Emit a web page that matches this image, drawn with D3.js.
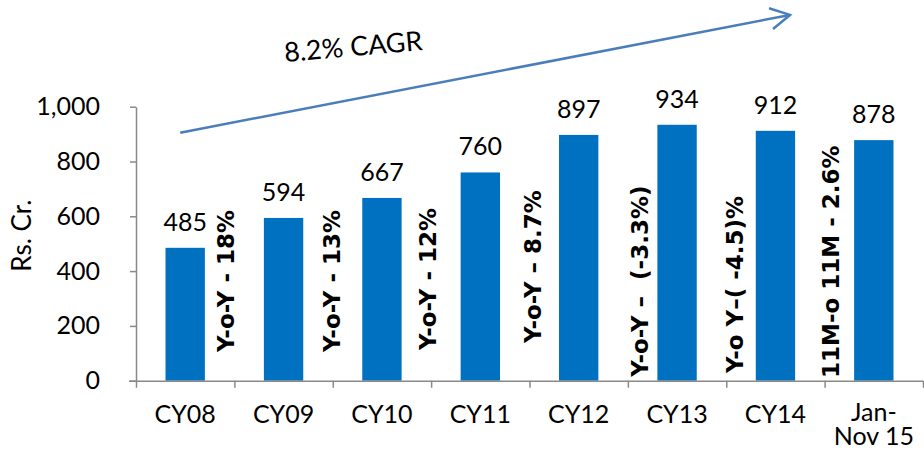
<!DOCTYPE html>
<html>
<head>
<meta charset="utf-8">
<script src="https://cdn.jsdelivr.net/npm/d3@7"></script>
<style>
  body { margin: 0; background: #fff; }
  svg { display: block; }
  text { font-family: Lato, "Open Sans", sans-serif; fill: #000; }
  .yoy { font-family: "DejaVu Sans", sans-serif; font-weight: bold; white-space: pre; }
</style>
</head>
<body>
<svg id="chart"></svg>
<script>
// data
var categories = ["CY08", "CY09", "CY10", "CY11", "CY12", "CY13", "CY14", "Jan-\nNov 15"]
var sales = [485, 594, 667, 760, 897, 934, 912, 878]
var yTicks = [0, 200, 400, 600, 800, 1000]
var yoyLabels = ["Y-o-Y - 18%", "Y-o-Y - 13%", "Y-o-Y - 12%", "Y-o-Y \u2013 8.7%",
                 "Y-o-Y \u2013  (-3.3%)", "Y-o Y\u2013( -4.5)%", "11M-o 11M - 2.6%"]
var cagrLabel = "8.2% CAGR"
var yTitle = "Rs. Cr."

// layout tweaks for the rotated annotations (value where text starts, px nudge from boundary)
var yoyBase = [105, 105, 112, 138, 14, 28, 10]
var yoyNudge = [-8, -1, -3, 3, 12, 9, 6]

var width = 924
var height = 456
var svg = d3.select("#chart").attr("width", width).attr("height", height)

var x = d3.scaleBand().domain(categories).range([136, 923]).padding(0)
var xb = d3.scaleLinear().domain([0, categories.length]).range([136, 923])
var y = d3.scaleLinear().domain([0, 1000]).range([380.7, 106.7])
var axisColor = "#898989"

// bars
var barW = x.bandwidth() * 0.4
svg.append("g")
  .selectAll("rect")
  .data(sales)
  .enter()
  .append("rect")
  .attr("x", (d, i) => x(categories[i]) + (x.bandwidth() - barW) / 2)
  .attr("y", d => y(d))
  .attr("width", barW)
  .attr("height", d => y(0) - y(d))
  .attr("fill", "#0070C0")

// value labels
svg.append("g")
  .selectAll("text")
  .data(sales)
  .enter()
  .append("text")
  .attr("x", (d, i) => x(categories[i]) + x.bandwidth() / 2)
  .attr("y", d => y(d) - 17)
  .attr("text-anchor", "middle")
  .style("font-size", "25px")
  .text(d => d)

// y axis
var yAxis = svg.append("g")
  .attr("transform", "translate(136,0)")
  .call(d3.axisLeft(y).tickValues(yTicks).tickFormat(d3.format(",")).tickSize(6).tickSizeOuter(0).tickPadding(30))
yAxis.select(".domain").attr("stroke", axisColor).attr("stroke-width", 1.5)
yAxis.selectAll(".tick line").attr("stroke", axisColor).attr("stroke-width", 1.5)
yAxis.selectAll(".tick text").style("font-size", "25px").style("font-family", "Lato, sans-serif").attr("fill", "#000")

// x axis: ticks on band boundaries
var xAxis = svg.append("g")
  .attr("transform", "translate(0," + y(0) + ")")
  .call(d3.axisBottom(xb).tickValues(d3.range(0, categories.length + 1)).tickFormat("").tickSize(7).tickSizeOuter(0))
xAxis.select(".domain").attr("stroke", axisColor).attr("stroke-width", 1.5)
  .attr("d", "M129,0.5H923")
xAxis.selectAll(".tick line").attr("stroke", axisColor).attr("stroke-width", 1.5)

// category labels
var cat = svg.append("g")
  .selectAll("text")
  .data(categories)
  .enter()
  .append("text")
  .attr("text-anchor", "middle")
  .style("font-size", "25px")
cat.each(function(d) {
  var lines = d.split("\n")
  var t = d3.select(this)
  lines.forEach(function(s, k) {
    t.append("tspan")
      .attr("x", x(d) + x.bandwidth() / 2)
      .attr("y", y(0) + (lines.length > 1 ? 40 : 42) + k * 24)
      .text(s)
  })
})

// y title
svg.append("text")
  .attr("transform", "translate(31," + ((y(0) + y(1000)) / 2 - 8) + ") rotate(-90)")
  .attr("text-anchor", "middle")
  .style("font-size", "26px")
  .text(yTitle)

// Y-o-Y annotations between bars
svg.append("g")
  .selectAll("text")
  .data(yoyLabels)
  .enter()
  .append("text")
  .attr("class", "yoy")
  .attr("transform", (d, i) => "translate(" + (xb(i + 1) + yoyNudge[i]) + "," + y(yoyBase[i]) + ") rotate(-90)")
  .attr("dominant-baseline", "central")
  .attr("text-anchor", "start")
  .style("font-size", "23px")
  .text(d => d)

// CAGR arrow
var arrowColor = "#4A7EBB"
var x0 = x(categories[0]) + x.bandwidth() / 2 - 5
var y0 = y(905)
var x1 = 790
var y1 = y(1335)
svg.append("line")
  .attr("x1", x0).attr("y1", y0)
  .attr("x2", x1).attr("y2", y1)
  .attr("stroke", arrowColor).attr("stroke-width", 2.5)
var ang = Math.atan2(y1 - y0, x1 - x0)
var head = 22, spread = 0.5
svg.append("path")
  .attr("d", "M" + (x1 - head * Math.cos(ang - spread)) + "," + (y1 - head * Math.sin(ang - spread)) +
    "L" + x1 + "," + y1 +
    "L" + (x1 - head * Math.cos(ang + spread)) + "," + (y1 - head * Math.sin(ang + spread)))
  .attr("fill", "none")
  .attr("stroke", arrowColor).attr("stroke-width", 2.5)

svg.append("text")
  .attr("transform", "translate(354,56) rotate(-5)")
  .attr("text-anchor", "middle")
  .style("font-size", "27px")
  .text(cagrLabel)
</script>
</body>
</html>
